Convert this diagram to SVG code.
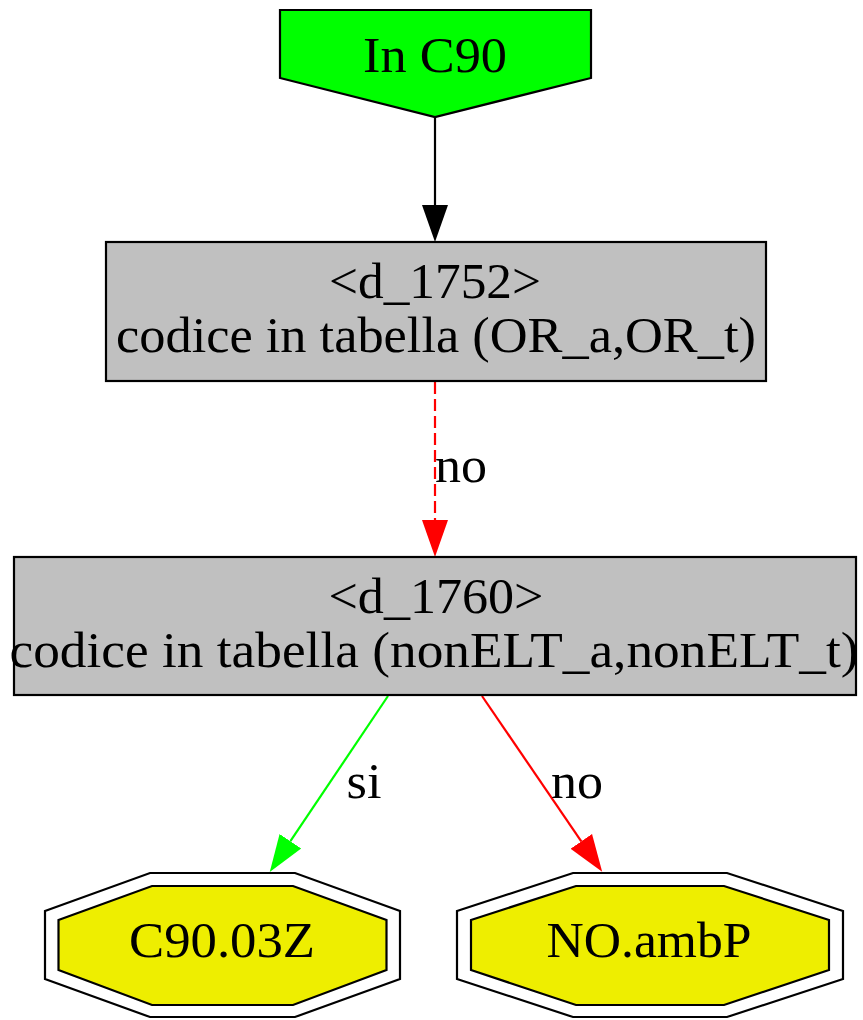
<svg xmlns="http://www.w3.org/2000/svg" width="863" height="1020" viewBox="0 0 863 1020">
<style>
.lbl{font-family:"Liberation Serif","Times New Roman",serif;font-size:50px;fill:#000;text-anchor:middle}
.box{fill:#c0c0c0;stroke:#000;stroke-width:2.2}
.term{fill:#eeee00;stroke:#000;stroke-width:2.2}
.outer{fill:none;stroke:#000;stroke-width:2.2}
.edge{fill:none;stroke-width:2.2}
</style>
<defs>
<marker id="ahK" markerUnits="userSpaceOnUse" markerWidth="37" markerHeight="28" refX="0" refY="14" orient="auto"><path d="M0,1 L37,14 L0,27 z" fill="#000"/></marker>
<marker id="ahR" markerUnits="userSpaceOnUse" markerWidth="37" markerHeight="28" refX="0" refY="14" orient="auto"><path d="M0,1 L37,14 L0,27 z" fill="#ff0000"/></marker>
<marker id="ahG" markerUnits="userSpaceOnUse" markerWidth="37" markerHeight="28" refX="0" refY="14" orient="auto"><path d="M0,1 L37,14 L0,27 z" fill="#00ff00"/></marker>
</defs>
<rect width="863" height="1020" fill="#fff"/>
<g id="connectors">
<path class="edge" stroke="#000" d="M435,117 L435,205" marker-end="url(#ahK)"/>
<path class="edge" stroke="#ff0000" stroke-dasharray="12,5" d="M435,382 L435,520" marker-end="url(#ahR)"/>
<text class="lbl" x="461" y="482" textLength="52" lengthAdjust="spacingAndGlyphs">no</text>
<path class="edge" stroke="#00ff00" d="M388,696 L290.4,841.2" marker-end="url(#ahG)"/>
<text class="lbl" x="364" y="798" textLength="35" lengthAdjust="spacingAndGlyphs">si</text>
<path class="edge" stroke="#ff0000" d="M482,696 L581.3,841.3" marker-end="url(#ahR)"/>
<text class="lbl" x="577" y="798" textLength="52" lengthAdjust="spacingAndGlyphs">no</text>
</g>
<g id="node_start">
<polygon points="280,10 591,10 591,78 435,117 280,78" fill="#00ff00" stroke="#000" stroke-width="2.2"/>
<text class="lbl" x="435" y="72" textLength="144" lengthAdjust="spacingAndGlyphs">In C90</text>
</g>
<g id="node_d_1752">
<rect class="box" x="106" y="242" width="660" height="139"/>
<text class="lbl" x="435" y="298" textLength="212" lengthAdjust="spacingAndGlyphs">&lt;d_1752&gt;</text>
<text class="lbl" x="436" y="352" textLength="640" lengthAdjust="spacingAndGlyphs">codice in tabella (OR_a,OR_t)</text>
</g>
<g id="node_d_1760">
<rect class="box" x="14" y="557" width="842" height="138"/>
<text class="lbl" x="436" y="613" textLength="215" lengthAdjust="spacingAndGlyphs">&lt;d_1760&gt;</text>
<text class="lbl" x="434" y="667" textLength="849" lengthAdjust="spacingAndGlyphs">codice in tabella (nonELT_a,nonELT_t)</text>
</g>
<g id="node_C90_03Z">
<polygon class="outer" points="150,873 295,873 400,911 400,979 295,1017 150,1017 45,979 45,911"/>
<polygon class="term" points="152,886 293,886 386.5,920 386.5,970 293,1005 152,1005 58.5,970 58.5,920"/>
<text class="lbl" x="222" y="957" textLength="186" lengthAdjust="spacingAndGlyphs">C90.03Z</text>
</g>
<g id="node_NO_ambP">
<polygon class="outer" points="573,873 727,873 843,911 843,979 727,1017 573,1017 457,979 457,911"/>
<polygon class="term" points="576,886 724,886 829,920 829,970 724,1005 576,1005 471,970 471,920"/>
<text class="lbl" x="649" y="957" textLength="205" lengthAdjust="spacingAndGlyphs">NO.ambP</text>
</g>
</svg>
